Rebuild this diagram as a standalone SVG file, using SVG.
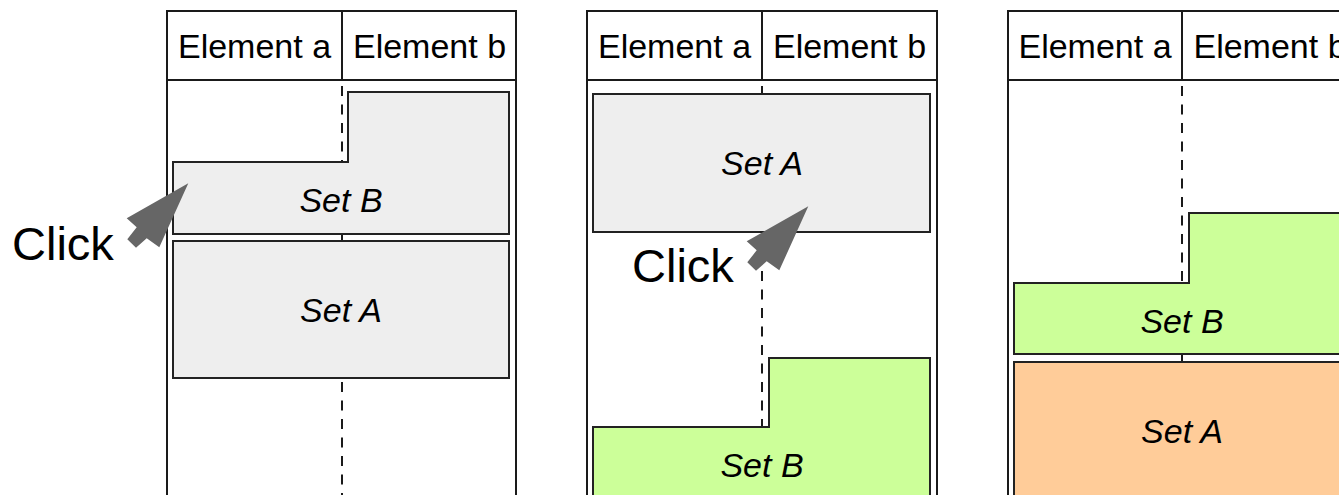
<svg xmlns="http://www.w3.org/2000/svg" width="1339" height="495" viewBox="0 0 1339 495">
  <defs>
    <style>
      .frame { fill: #ffffff; stroke: #1a1a1a; stroke-width: 2; }
      .line { fill: none; stroke: #1a1a1a; stroke-width: 2; }
      .dash { fill: none; stroke: #1a1a1a; stroke-width: 2; stroke-dasharray: 10 8.5; }
      .gray { fill: #eeeeee; stroke: #222222; stroke-width: 2; }
      .green { fill: #ccff99; stroke: #222222; stroke-width: 2; }
      .orange { fill: #ffcc99; stroke: #222222; stroke-width: 2; }
      .hdr { font-family: "Liberation Sans", Arial, sans-serif; font-size: 34px; fill: #000; text-anchor: middle; }
      .set { font-family: "Liberation Sans", Arial, sans-serif; font-size: 34px; font-style: italic; fill: #000; text-anchor: middle; }
      .click { font-family: "Liberation Sans", Arial, sans-serif; font-size: 47px; fill: #000; }
      .cursor { fill: #666666; stroke: none; }
    </style>
    <polygon id="cursorShape" class="cursor" points="188.3,183.3 126.7,218.3 136.7,227.3 127.3,239.3 136,247.7 146.7,238.3 159.3,247.3"/>
  </defs>
  <rect width="1339" height="495" fill="#ffffff"/>

  <!-- Panel frames -->
  <g id="panel1-frame">
    <rect class="frame" x="167" y="11" width="349" height="500"/>
    <line class="line" x1="167" y1="80" x2="516" y2="80"/>
    <line class="line" x1="342" y1="11" x2="342" y2="80"/>
  </g>
  <g id="panel2-frame">
    <rect class="frame" x="587" y="11" width="350" height="500"/>
    <line class="line" x1="587" y1="80" x2="937" y2="80"/>
    <line class="line" x1="762" y1="11" x2="762" y2="80"/>
  </g>
  <g id="panel3-frame">
    <rect class="frame" x="1008" y="11" width="350" height="500"/>
    <line class="line" x1="1008" y1="80" x2="1358" y2="80"/>
    <line class="line" x1="1182" y1="11" x2="1182" y2="80"/>
  </g>

  <!-- Lifelines -->
  <g id="connectors">
    <line class="dash" x1="342" y1="86" x2="342" y2="500"/>
    <line class="dash" x1="762" y1="86" x2="762" y2="500"/>
    <line class="dash" x1="1182" y1="86" x2="1182" y2="500"/>
    <line class="line" x1="342" y1="233" x2="342" y2="242"/>
    <line class="line" x1="1182" y1="353" x2="1182" y2="363"/>
  </g>

  <!-- Headers -->
  <g id="headers">
    <text class="hdr" x="254.5" y="58">Element a</text>
    <text class="hdr" x="429.5" y="58">Element b</text>
    <text class="hdr" x="674.5" y="58">Element a</text>
    <text class="hdr" x="849.5" y="58">Element b</text>
    <text class="hdr" x="1095" y="58">Element a</text>
    <text class="hdr" x="1270" y="58">Element b</text>
  </g>

  <!-- Panel 1 nodes -->
  <g id="p1-setB">
    <polygon class="gray" points="173,162 348,162 348,92 509,92 509,234 173,234"/>
    <text class="set" x="341" y="212">Set B</text>
  </g>
  <g id="p1-setA">
    <rect class="gray" x="173" y="241" width="336" height="137"/>
    <text class="set" x="341" y="322">Set A</text>
  </g>
  <g id="p1-click">
    <text class="click" x="12" y="260">Click</text>
    <use href="#cursorShape"/>
  </g>

  <!-- Panel 2 nodes -->
  <g id="p2-setA">
    <rect class="gray" x="593" y="94" width="337" height="138"/>
    <text class="set" x="762" y="175">Set A</text>
  </g>
  <g id="p2-setB">
    <polygon class="green" points="593,427 769,427 769,358 930,358 930,520 593,520"/>
    <text class="set" x="762" y="477">Set B</text>
  </g>
  <g id="p2-click">
    <text class="click" x="632" y="282">Click</text>
    <use href="#cursorShape" transform="translate(620,23)"/>
  </g>

  <!-- Panel 3 nodes -->
  <g id="p3-setB">
    <polygon class="green" points="1014,283 1189,283 1189,213 1351,213 1351,354 1014,354"/>
    <text class="set" x="1182" y="333">Set B</text>
  </g>
  <g id="p3-setA">
    <rect class="orange" x="1014" y="362" width="337" height="160"/>
    <text class="set" x="1182" y="443">Set A</text>
  </g>
</svg>
